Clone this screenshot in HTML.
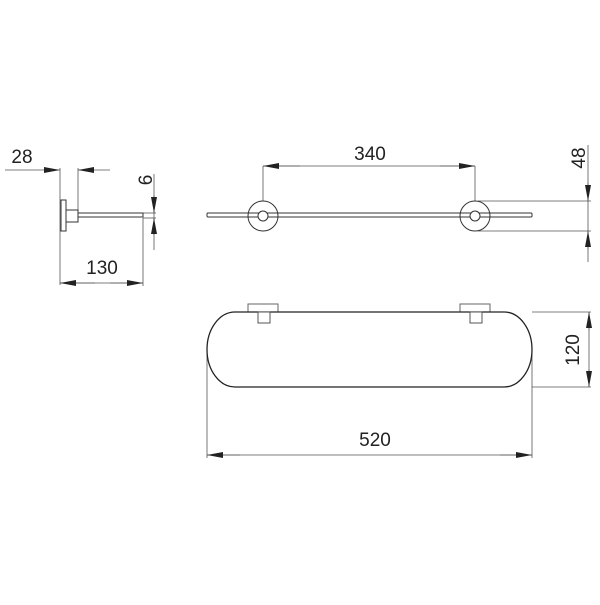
<!DOCTYPE html>
<html><head><style>html,body{margin:0;padding:0;background:#fff}</style></head>
<body>
<svg width="600" height="600" viewBox="0 0 600 600" xmlns="http://www.w3.org/2000/svg" font-family="Liberation Sans, sans-serif">
<defs>
<marker id="a" markerWidth="16" markerHeight="6" refX="16" refY="3" orient="auto" markerUnits="userSpaceOnUse"><path d="M0,0 L16,3 L0,6 z" fill="#222"/></marker>
</defs>
<g stroke="#555" stroke-width="0.8" fill="none">
<!-- side view -->
<line x1="5" y1="170" x2="60" y2="170" marker-end="url(#a)"/>
<line x1="110" y1="170" x2="78" y2="170" marker-end="url(#a)"/>
<line x1="60" y1="168" x2="60" y2="285"/>
<line x1="78" y1="168" x2="78" y2="212"/>
<line x1="60" y1="283" x2="143" y2="283"/>
<line x1="95" y1="283" x2="60" y2="283" marker-end="url(#a)"/>
<line x1="110" y1="283" x2="143" y2="283" marker-end="url(#a)"/>
<line x1="143" y1="218" x2="143" y2="286"/>
<line x1="154" y1="174" x2="154" y2="250"/>
<line x1="154" y1="195" x2="154" y2="213" marker-end="url(#a)"/>
<line x1="154" y1="235" x2="154" y2="218" marker-end="url(#a)"/>
<line x1="143" y1="213" x2="156" y2="213"/>
<line x1="143" y1="218" x2="156" y2="218"/>
<!-- top view dims -->
<line x1="263" y1="166" x2="475" y2="166"/>
<line x1="300" y1="166" x2="263" y2="166" marker-end="url(#a)"/>
<line x1="440" y1="166" x2="475" y2="166" marker-end="url(#a)"/>
<line x1="263" y1="166" x2="263" y2="216"/>
<line x1="475" y1="166" x2="475" y2="216"/>
<line x1="478" y1="201" x2="591" y2="201"/>
<line x1="478" y1="231" x2="591" y2="231"/>
<line x1="588" y1="145" x2="588" y2="262"/>
<line x1="588" y1="183" x2="588" y2="201" marker-end="url(#a)"/>
<line x1="588" y1="249" x2="588" y2="231" marker-end="url(#a)"/>
<!-- front view dims -->
<line x1="532" y1="312" x2="591" y2="312"/>
<line x1="532" y1="387" x2="591" y2="387"/>
<line x1="589" y1="312" x2="589" y2="387"/>
<line x1="589" y1="330" x2="589" y2="312" marker-end="url(#a)"/>
<line x1="589" y1="369" x2="589" y2="387" marker-end="url(#a)"/>
<line x1="207" y1="350" x2="207" y2="458"/>
<line x1="532" y1="350" x2="532" y2="458"/>
<line x1="207" y1="455" x2="532" y2="455"/>
<line x1="240" y1="455" x2="207" y2="455" marker-end="url(#a)"/>
<line x1="500" y1="455" x2="532" y2="455" marker-end="url(#a)"/>
</g>
<g stroke="#333" stroke-width="1" fill="#fff">
<rect x="61" y="200" width="5" height="31"/>
<rect x="66" y="210" width="12" height="12"/>
<rect x="78" y="213" width="65" height="4"/>
<circle cx="263" cy="216" r="15"/>
<circle cx="475" cy="216" r="15"/>
<rect x="207" y="213" width="325" height="4" rx="1" fill="none"/>
<circle cx="263" cy="216" r="5"/>
<circle cx="475" cy="216" r="5"/>
<rect x="248" y="304" width="30" height="8" stroke="#666"/>
<rect x="460" y="304" width="30" height="8" stroke="#666"/>
<path d="M235,312 L504,312 A28,37.5 0 0 1 504,387 L235,387 A28,37.5 0 0 1 235,312 Z" stroke="#222" stroke-width="1.3"/>
<rect x="258" y="312" width="12" height="11" stroke="#555"/>
<rect x="470" y="312" width="12" height="11" stroke="#555"/>
</g>
<g fill="#222" font-size="19">
<text x="22" y="163" text-anchor="middle">28</text>
<text x="102" y="274" text-anchor="middle">130</text>
<text x="370" y="160" text-anchor="middle">340</text>
<text x="375" y="446" text-anchor="middle">520</text>
<text transform="translate(152,180) rotate(-90)" text-anchor="middle">6</text>
<text transform="translate(585,158) rotate(-90)" text-anchor="middle">48</text>
<text transform="translate(579,350) rotate(-90)" text-anchor="middle">120</text>
</g>
</svg>
</body></html>
